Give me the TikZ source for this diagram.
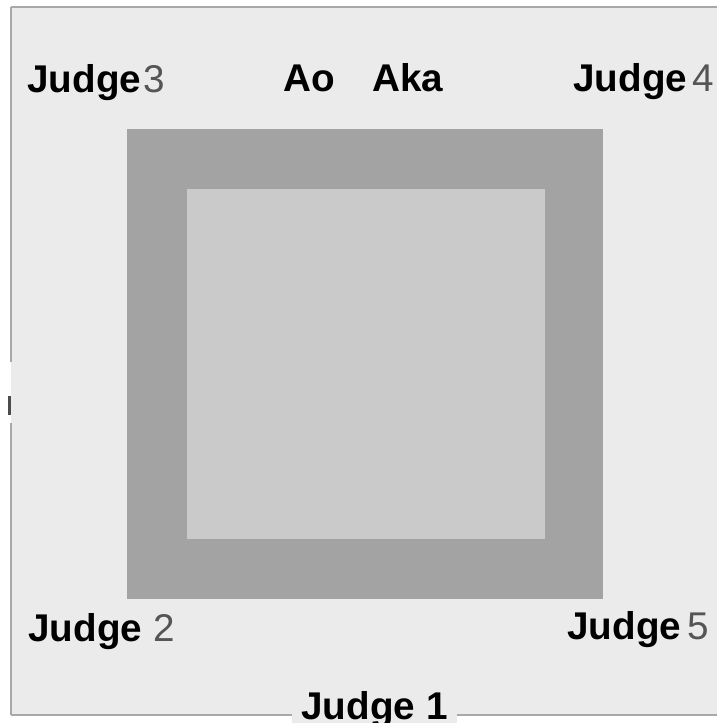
\documentclass[tikz,border=0pt]{standalone}
\usepackage{fontspec}
\setmainfont{Liberation Sans}
\definecolor{floor}{HTML}{EBEBEB}
\definecolor{mat}{HTML}{A3A3A3}
\definecolor{area}{HTML}{CACACA}
\definecolor{rim}{HTML}{A8A8A8}
\definecolor{digit}{HTML}{555555}
\tikzset{
	judge/.style={anchor=base west, inner sep=0pt, font=\fontsize{22}{25}\selectfont\bfseries},
	border/.style={draw=rim, line width=1.2pt}
}
\newcommand{\judgeno}[2]{Judge\hspace{#1}{\mdseries\color{digit}#2}}

\begin{document}
\begin{tikzpicture}
			\useasboundingbox (0, 0) rectangle (14.34, 14.46);
			\fill[floor] (0.22, 0.16) rectangle (14.34, 14.32);
			\draw[border] (0.22, 14.32) -- (14.34, 14.32);
			\draw[border] (0.22, 0.16) -- (14.34, 0.16);
			\draw[border] (0.22, 14.32) -- (0.22, 7.22);
			\draw[border] (0.22, 6.0) -- (0.22, 0.16);
			\draw[draw=black!70, line width=1.4pt] (0.19, 6.54) -- (0.19, 6.16);
			\node[shape=rectangle, fill=mat, minimum width=9.52cm, minimum height=9.4cm](M1) at (7.3, 7.18){};
			\node[shape=rectangle, fill=area, minimum width=7.16cm, minimum height=7cm](A1) at (7.32, 7.18){};
			\node[judge](J3) at (0.54, 12.6){\judgeno{1.5pt}{3}};
			\node[judge](J4) at (11.46, 12.62){\judgeno{3pt}{4}};
			\node[judge](J2) at (0.56, 1.62){\judgeno{6.5pt}{2}};
			\node[judge](J5) at (11.34, 1.66){\judgeno{3.5pt}{5}};
			\node[judge](AO) at (5.66, 12.62){Ao};
			\node[judge](AK) at (7.44, 12.62){Aka};
			\node[judge, anchor=base, fill=floor, inner xsep=0.18cm, inner ysep=0.12cm](J1) at (7.49, 0.06){Judge 1};
		\end{tikzpicture}
\end{document}
